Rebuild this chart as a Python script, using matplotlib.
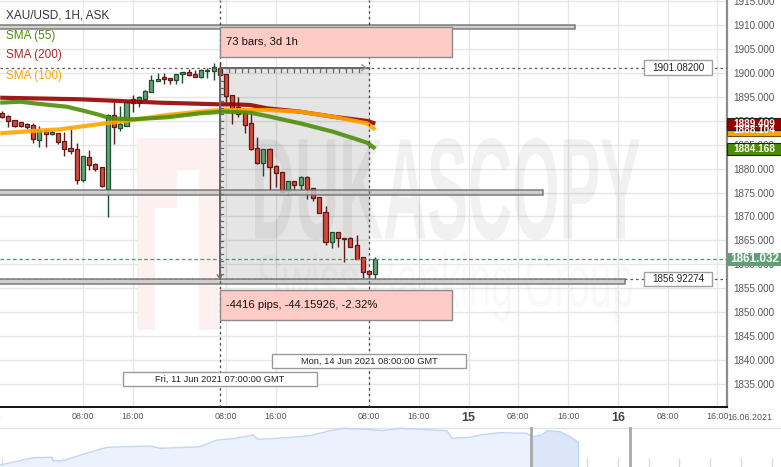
import numpy as np
import matplotlib
matplotlib.use('Agg')
import matplotlib.pyplot as plt
from matplotlib.patches import Rectangle, PathPatch
from matplotlib.textpath import TextPath
from matplotlib.font_manager import FontProperties
from matplotlib.transforms import Affine2D, blended_transform_factory

plt.rcParams['font.family'] = ['Liberation Sans', 'DejaVu Sans']

# XAU/USD 1H ask bars, index 0 = Fri 11 Jun 2021 08:00 (weekend gap removed)
bar_idx = np.arange(-36, 25)
opens = np.array([
    1891.55, 1890.99, 1890.15, 1889.67, 1889.32, 1889.05, 1885.91, 1888.00,
    1887.17, 1887.38, 1885.70, 1884.31, 1884.03, 1877.56, 1882.43, 1880.90,
    1880.27, 1875.80, 1891.20, 1888.55, 1888.84, 1894.48, 1893.77, 1894.60,
    1895.94, 1898.24, 1899.14, 1898.87, 1898.45, 1899.70, 1900.12, 1899.70,
    1899.07, 1900.33, 1900.33, 1901.08,
    1899.76, 1895.38, 1892.81, 1891.55, 1889.46, 1884.24, 1881.11, 1884.10,
    1880.55, 1879.23, 1875.32, 1877.35, 1876.51, 1878.25, 1875.89, 1874.01,
    1871.00, 1864.73, 1866.69, 1865.57, 1865.57, 1863.98, 1861.47, 1858.61,
    1857.92])
highs = np.array([
    1892.03, 1891.10, 1890.20, 1889.70, 1889.46, 1889.46, 1888.90, 1888.21,
    1888.07, 1887.50, 1887.65, 1888.27, 1885.41, 1882.70, 1883.89, 1881.23,
    1880.30, 1891.41, 1893.98, 1893.08, 1894.00, 1895.38, 1895.17, 1896.42,
    1899.55, 1899.91, 1899.91, 1898.90, 1899.70, 1900.15, 1900.75, 1900.60,
    1900.75, 1900.95, 1902.00, 1902.33,
    1899.80, 1895.40, 1895.02, 1892.24, 1891.89, 1886.67, 1884.15, 1884.24,
    1880.75, 1879.25, 1877.40, 1877.40, 1878.46, 1878.46, 1876.02, 1874.05,
    1872.25, 1866.72, 1866.72, 1865.60, 1865.78, 1866.13, 1861.50, 1858.65,
    1861.60])
lows = np.array([
    1890.51, 1888.75, 1888.63, 1888.63, 1888.27, 1885.29, 1884.45, 1884.45,
    1886.96, 1885.14, 1882.70, 1883.05, 1876.72, 1877.14, 1879.65, 1879.56,
    1876.25, 1869.95, 1885.08, 1887.86, 1888.80, 1891.89, 1892.93, 1894.48,
    1895.90, 1898.20, 1897.61, 1897.67, 1897.61, 1897.82, 1899.28, 1899.05,
    1898.87, 1898.87, 1898.51, 1899.45,
    1893.98, 1889.26, 1890.84, 1887.50, 1883.89, 1881.05, 1878.52, 1875.53,
    1876.22, 1874.97, 1874.49, 1875.53, 1875.53, 1873.65, 1873.30, 1870.66,
    1864.04, 1863.35, 1863.69, 1860.43, 1863.65, 1861.05, 1857.09, 1856.92,
    1856.88])
closes = np.array([
    1890.72, 1889.88, 1888.90, 1888.96, 1888.63, 1886.12, 1888.00, 1887.17,
    1887.65, 1885.50, 1884.16, 1883.74, 1877.56, 1882.63, 1880.69, 1879.98,
    1876.30, 1891.20, 1888.59, 1889.32, 1893.98, 1893.77, 1894.90, 1896.15,
    1898.45, 1898.72, 1898.66, 1898.45, 1899.70, 1900.12, 1899.49, 1899.07,
    1900.54, 1900.54, 1901.16, 1899.49,
    1895.17, 1892.60, 1891.35, 1889.05, 1884.03, 1881.11, 1884.10, 1880.27,
    1879.02, 1875.18, 1877.35, 1876.51, 1878.25, 1875.68, 1873.80, 1870.79,
    1864.73, 1866.69, 1865.44, 1865.30, 1863.69, 1861.12, 1858.34, 1857.98,
    1861.03])

# moving averages
sma55_x = [-36.3, -33.1, -29.9, -25.6, -22.3, -20.3, -18.6, -15, -9.5, -4.2, -0.2, 3.9, 6.6, 11.9, 17.2, 22.7, 24]
sma55_y = [1893.77, 1893.98, 1893.50, 1892.93, 1891.89, 1891.20, 1890.51, 1890.30, 1890.72, 1891.55, 1891.89,
           1891.68, 1890.99, 1889.46, 1887.71, 1885.41, 1884.168]
sma200_x = [-36.3, -23.5, -10.6, -1, 1.1, 3.9, 6.6, 11.9, 17.2, 22.7, 24]
sma200_y = [1894.81, 1894.48, 1893.77, 1893.43, 1893.43, 1893.29, 1892.60, 1891.89, 1890.84, 1889.95, 1889.409]
sma100_x = [-36.3, -29.9, -26.7, -20.3, -15, -9.5, -4.2, -1, 6.6, 11.9, 17.2, 22.7, 24]
sma100_y = [1887.38, 1887.96, 1888.21, 1889.30, 1890.15, 1891.20, 1891.89, 1892.24, 1892.24, 1891.89, 1890.84,
            1889.46, 1888.104]
sma_names = ['SMA (55)', 'SMA (200)', 'SMA (100)']
last_price = 1861.032

# measurement tool
measure_start, measure_end = -1, 23
measure_top, measure_bottom = 1901.082, 1856.92274
measure_text = ['73 bars, 3d 1h', '-4416 pips, -44.15926, -2.32%']
date_labels = ['Fri, 11 Jun 2021 07:00:00 GMT', 'Mon, 14 Jun 2021 08:00:00 GMT']

# horizontal level bars (price, last bar index they reach)
levels = [1909.55, 1875.0, 1856.45]
level_ends = [56.1, 51.0, 64.1]

tick_pos = [-23, -15, 0, 8, 23, 31, 39, 47, 55, 63, 71, 79]
tick_lab = ['08:00', '16:00', '08:00', '16:00', '08:00', '16:00', '15',
            '08:00', '16:00', '16', '08:00', '16:00']
hidden_tick = (-38, '16:00')   # label just off the left edge

# navigator overview (position along strip, height)
nav_x = np.array([0, 33, 52, 53, 62, 88, 107, 150, 160, 187, 200, 217, 233, 253, 258, 277, 300, 313,
                  330, 343, 367, 383, 400, 420, 447, 452, 470, 480, 500, 527, 532, 542, 547, 560, 570, 578])
nav_h = np.array([2, 9.3, 9.7, 6.3, 6, 14.3, 19.7, 21, 18.7, 19.7, 20.3, 27, 28.3, 32, 27.7, 28.7, 30.3, 32,
                  36.3, 38.7, 37.7, 36.3, 38.7, 37.7, 36.3, 28.7, 29.7, 32, 34.3, 33.7, 30.3, 32, 36.3, 35.3,
                  30.3, 25.3])

W, H = 781, 467
PX = 6.22      # pixels per bar
PY = 4.787     # pixels per price unit

fig = plt.figure(figsize=(W / 100, H / 100), dpi=100)
ax = fig.add_axes([0, 60 / H, 727 / W, 407 / H])
ax.set_axisbelow(True)
ax.grid(color='#e6e6e6', lw=1)

for s in ['top', 'left']:
    ax.spines[s].set_visible(False)
ax.spines['right'].set_color('#8c8c8c')
ax.spines['right'].set_linewidth(1.6)
ax.spines['bottom'].set_color('black')
ax.spines['bottom'].set_linewidth(1.3)

ax.yaxis.tick_right()
ax.set_yticks(np.arange(1835, 1916, 5))
ax.yaxis.set_major_formatter(matplotlib.ticker.FuncFormatter(lambda v, p: f'{v:.3f}'))
ax.tick_params(axis='y', length=0, pad=4.3, labelsize=7.1, labelcolor='#555555')
ax.set_xticks(tick_pos)
ax.set_xticklabels(tick_lab)
ax.tick_params(axis='x', length=0, pad=3.4, labelsize=6.4, labelcolor='#555555')
for lab in ax.get_xticklabels():
    if len(lab.get_text()) == 2:
        lab.set_fontsize(9)
        lab.set_fontweight('bold')
        lab.set_color('#444444')
ax.set_xlim(-226 / PX, (727 - 226) / PX)
ax.set_ylim(1910 - 382 / PY, 1910 + 25 / PY)
bx = blended_transform_factory(ax.transData, fig.transFigure)
ax.text(hidden_tick[0], 1 - 417 / H, hidden_tick[1], transform=bx, ha='center', va='center',
        fontsize=6.4, color='#555555', clip_on=False)
fig.text(772 / W, 1 - 417 / H, '16.06.2021', ha='right', va='center', fontsize=6.4, color='#555555')

# watermark
to_disp = Affine2D().scale(0.01) + fig.dpi_scale_trans


def stretched(s, box, alpha, weight):
    x0, ytop, x1, ybot = box
    tp = TextPath((0, 0), s, size=100, prop=FontProperties(family='Liberation Sans', weight=weight))
    e = tp.get_extents()
    tr = (Affine2D().translate(-e.x0, -e.y0).scale((x1 - x0) / e.width, (ybot - ytop) / e.height)
          .translate(x0, H - ybot) + to_disp)
    ax.add_artist(PathPatch(tp, transform=tr, fc='black', ec='none', alpha=alpha, zorder=1.5))


stretched('DUKASCOPY', (255, 138, 640, 240), 0.055, 'bold')
stretched('Swiss Banking Group', (258, 252, 632, 322), 0.025, 'normal')
pix = Affine2D().scale(1, -1).translate(0, H) + to_disp
ax.add_artist(Rectangle((137, 138), 82, 192, transform=pix, fc='#fdf0f0', ec='none', zorder=0.8))
ax.add_artist(Rectangle((177, 170), 22, 38, transform=pix, fc='white', ec='none', zorder=0.81))
ax.add_artist(Rectangle((155, 208), 44, 122, transform=pix, fc='white', ec='none', zorder=0.81))

# measurement area
ax.add_patch(Rectangle((measure_start, measure_bottom), measure_end - measure_start,
                       measure_top - measure_bottom, fc=(0, 0, 0, 0.1), ec='none', zorder=1))

# candles
up = closes >= opens
edge = np.where(up, '#1d4f2f', '#5e1b15')
fill = np.where(up, '#62a37a', '#d8493c')
ax.vlines(bar_idx, lows, highs, colors=edge, lw=1, zorder=2)
ax.bar(bar_idx, np.maximum(np.abs(closes - opens), 0.25), bottom=np.minimum(opens, closes),
       width=0.66, color=fill, edgecolor=edge, linewidth=0.9, zorder=2.1)

# moving averages
ax.plot(sma200_x, sma200_y, color='#990000', lw=3, alpha=0.9, solid_capstyle='butt', zorder=3)
ax.plot(sma100_x, sma100_y, color='#ffa500', lw=3, alpha=0.9, solid_capstyle='butt', zorder=3.05)
ax.plot(sma55_x, sma55_y, color='#4e8e0a', lw=3, alpha=0.9, solid_capstyle='butt', zorder=3.1)

# level bars and dotted lines
for lv, end in zip(levels, level_ends):
    ax.add_patch(Rectangle((-40, lv - 0.46), end + 40, 0.92, fc='#c9c9c9', ec='#6a6a6a',
                           lw=1.1, alpha=0.85, zorder=3.5))
for lv in [measure_top, measure_bottom]:
    ax.axhline(lv, color='#555555', lw=0.9, ls=(0, (2, 2.5)), zorder=3.4)
ax.axhline(last_price, color='#4f9a66', lw=0.9, ls=(0, (3, 2)), zorder=3.6)
for xv in [measure_start, measure_end]:
    ax.axvline(xv, color='#444444', lw=0.9, ls=(0, (2, 2.5)), zorder=4)

# measurement frame with ruler ticks
ax.plot([measure_start, measure_start, measure_end], [measure_bottom, measure_top, measure_top],
        color='#666666', lw=1.4, zorder=4.1)
for t in np.arange(measure_start + 1.45, measure_end - 1.5, 1.045):
    ax.plot([t, t], [measure_top, measure_top - 0.8], color='#666666', lw=0.9, zorder=4.1)
for t in np.arange(measure_top - 1.39, measure_bottom + 0.5, -1.39):
    ax.plot([measure_start, measure_start + 0.55], [t, t], color='#666666', lw=0.9, zorder=4.1)
ax.plot([measure_end - 1.15, measure_end - 0.45, measure_end - 1.15],
        [measure_top + 0.6, measure_top, measure_top - 0.6], color='#999999', lw=1, zorder=4.2)
ax.plot([measure_start - 0.4, measure_start, measure_start + 0.4],
        [measure_bottom + 0.9, measure_bottom + 0.1, measure_bottom + 0.9], color='#777777', lw=1, zorder=4.2)

# info boxes of the measurement
box_w = 232 / PX
box_h = 30 / PY
gap = 11 / PY
ax.add_patch(Rectangle((measure_start, measure_top + gap), box_w, box_h, fc='#ffcbc7', ec='#8a8a8a',
                       lw=1, zorder=5))
ax.text(measure_start + 6 / PX, measure_top + gap + box_h / 2, measure_text[0], fontsize=8.1,
        color='#111111', va='center', ha='left', zorder=6)
ax.add_patch(Rectangle((measure_start, measure_bottom - gap - box_h), box_w, box_h, fc='#ffcbc7',
                       ec='#8a8a8a', lw=1, zorder=5))
ax.text(measure_start + 6 / PX, measure_bottom - gap - box_h / 2, measure_text[1], fontsize=8.1,
        color='#111111', va='center', ha='left', zorder=6)

# date labels
for xv, yc, lab in [(measure_start, 1836.08, date_labels[0]), (measure_end, 1839.78, date_labels[1])]:
    ax.add_patch(Rectangle((xv - 97 / PX, yc - 7.2 / PY), 194 / PX, 14.4 / PY, fc='white', ec='#9a9a9a',
                           lw=1, zorder=5))
    ax.text(xv, yc, lab, fontsize=6.7, color='#222222', ha='center', va='center', zorder=6)

# price boxes of the horizontal lines
for lv in [measure_top, measure_bottom]:
    ax.add_patch(Rectangle((418 / PX, lv - 7.3 / PY), 67.5 / PX, 14.6 / PY, fc='white', ec='#a0a0a0',
                           lw=1, zorder=5))
    ax.text(452 / PX, lv, f'{lv:.5f}', fontsize=7.1, color='#222222', ha='center', va='center', zorder=6)

# right-axis value tags
bt = blended_transform_factory(ax.transAxes, ax.transData)
tags = [(sma100_y[-1], '#ffa500', '#7a5000', 7.2, '#ffffff'),
        (sma200_y[-1], '#990000', '#222222', 7.2, '#ffffff'),
        (sma55_y[-1], '#4b8c02', '#222222', 7.2, '#ffffff')]
for val, fc, ec, fs, tc in tags:
    ax.add_patch(Rectangle((1.0, val - 6 / PY), 54 / 727, 12 / PY, transform=bt, fc=fc, ec=ec, lw=0.8,
                           clip_on=False, zorder=7))
    ax.text(754 / 727, val, f'{val:.3f}', transform=bt, fontsize=fs, color=tc, fontweight='bold',
            ha='center', va='center', clip_on=False, zorder=8)
ax.add_patch(Rectangle((1.0, last_price - 6.2 / PY), 54 / 727, 12.4 / PY, transform=bt, fc='#5f9f76',
                       ec='none', clip_on=False, zorder=7))
ax.text(755 / 727, last_price, f'{last_price:.3f}', transform=bt, fontsize=8.5, color='white',
        fontweight='bold', ha='center', va='center', clip_on=False, zorder=8)

# legend texts
fig.text(6 / W, 1 - 15 / H, 'XAU/USD, 1H, ASK', fontsize=8.5, color='#333333', va='center')
for name, col, yy in zip(sma_names, ['#4e8e0a', '#a02c2c', '#ffa500'], [36, 55, 76]):
    fig.text(6 / W, 1 - yy / H, name, fontsize=8.5, color=col, va='center')

# navigator strip
nav = fig.add_axes([0, 0, 1, 40 / H])
nav.set_xlim(0, W)
nav.set_ylim(0, 40)
nav.axis('off')
nav.vlines(np.arange(1.7, W, 30.8), 0, 9, color='#d9d9d9', lw=1)
nav.fill_between(nav_x, 0, nav_h, color='#ebf2fd', lw=0, zorder=2)
nav.fill_between(nav_x, 0, nav_h, where=nav_x >= 531, color='#dbe6fa', lw=0, zorder=2.1)
nav.plot(nav_x, nav_h, color='#c3d5f3', lw=1, zorder=3)
nav.plot([578, 578], [0, nav_h[-1]], color='#c3d5f3', lw=1, zorder=3)
nav.axvline(531, color='#a8a8a8', lw=2, zorder=4)
nav.axvline(630, color='#a8a8a8', lw=2, zorder=4)
nav.axhline(39.5, color='#e2e2e2', lw=1)

fig.savefig('out.png', dpi=100)
